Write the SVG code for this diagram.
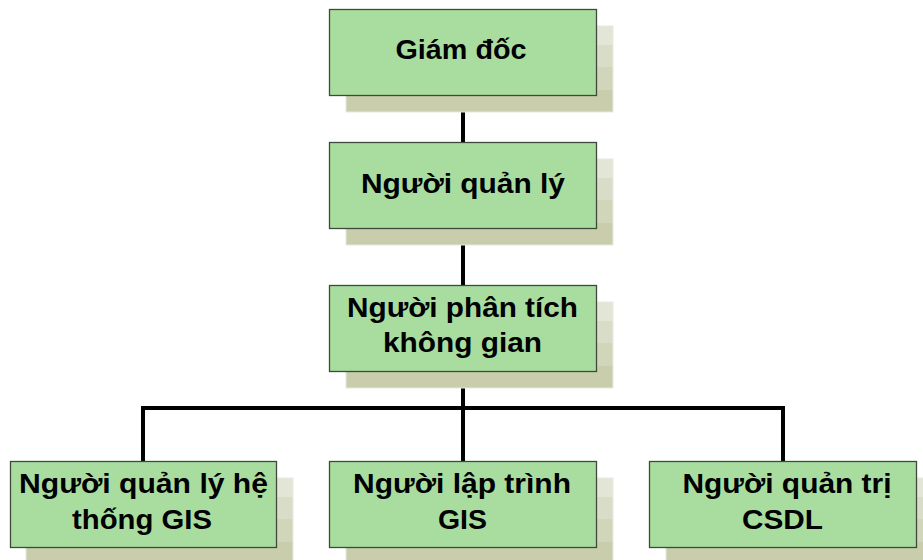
<svg xmlns="http://www.w3.org/2000/svg" width="923" height="560" viewBox="0 0 923 560">
<defs>
<linearGradient id="sh" x1="0" y1="0" x2="0" y2="1">
<stop offset="0" stop-color="#e3e5d7"/><stop offset="0.22" stop-color="#e3e5d7"/>
<stop offset="0.22" stop-color="#d9ddc8"/><stop offset="0.48" stop-color="#d9ddc8"/>
<stop offset="0.48" stop-color="#d1d5ba"/><stop offset="0.74" stop-color="#d1d5ba"/>
<stop offset="0.74" stop-color="#c9cdab"/><stop offset="1" stop-color="#c9cdab"/>
</linearGradient>
</defs>
<style>
.sh{fill:url(#sh);stroke:#e8eadd;stroke-width:1}
.bx{fill:#a9dd9f;stroke:#3c4a3c;stroke-width:1.3}
.t{font-family:"Liberation Sans",Arial,sans-serif;font-weight:bold;font-size:27px;fill:#000;text-anchor:middle}
.c{stroke:#000;stroke-width:4;fill:none}
</style>
<rect width="923" height="560" fill="#fff"/>
<g id="connectors">
<line class="c" x1="463" y1="95" x2="463" y2="142"/>
<line class="c" x1="463" y1="228" x2="463" y2="286"/>
<line class="c" x1="463" y1="371" x2="463" y2="462"/>
<polyline class="c" points="143,461 143,408 783,408 783,461"/>
</g>
<g id="giamdoc">
<rect class="sh" x="346" y="26" width="267" height="86"/>
<rect class="bx" x="329.5" y="9.5" width="267" height="86"/>
<text class="t" x="461" y="59" textLength="131" lengthAdjust="spacingAndGlyphs">Giám đốc</text>
</g>
<g id="nguoiquanly">
<rect class="sh" x="346" y="159" width="267" height="86"/>
<rect class="bx" x="329.5" y="142.5" width="267" height="86"/>
<text class="t" x="463" y="193" textLength="204" lengthAdjust="spacingAndGlyphs">Người quản lý</text>
</g>
<g id="phantich">
<rect class="sh" x="346" y="302" width="267" height="86"/>
<rect class="bx" x="329.5" y="285.5" width="267" height="86"/>
<text class="t" x="462.5" y="317" textLength="231" lengthAdjust="spacingAndGlyphs">Người phân tích</text>
<text class="t" x="462.5" y="352" textLength="159" lengthAdjust="spacingAndGlyphs">không gian</text>
</g>
<g id="quanlyhethong">
<rect class="sh" x="26" y="478" width="267" height="86"/>
<rect class="bx" x="10.5" y="461.5" width="266" height="86"/>
<text class="t" x="143.5" y="493" textLength="249" lengthAdjust="spacingAndGlyphs">Người quản lý hệ</text>
<text class="t" x="142" y="529" textLength="140" lengthAdjust="spacingAndGlyphs">thống GIS</text>
</g>
<g id="laptrinh">
<rect class="sh" x="346" y="478" width="267" height="86"/>
<rect class="bx" x="329.5" y="461.5" width="267" height="86"/>
<text class="t" x="462" y="493" textLength="218" lengthAdjust="spacingAndGlyphs">Người lập trình</text>
<text class="t" x="462.5" y="529" textLength="49" lengthAdjust="spacingAndGlyphs">GIS</text>
</g>
<g id="quantri">
<rect class="sh" x="666" y="478" width="267" height="86"/>
<rect class="bx" x="649.5" y="461.5" width="267" height="86"/>
<text class="t" x="787" y="493" textLength="209" lengthAdjust="spacingAndGlyphs">Người quản trị</text>
<text class="t" x="782.5" y="529" textLength="81" lengthAdjust="spacingAndGlyphs">CSDL</text>
</g>
</svg>
